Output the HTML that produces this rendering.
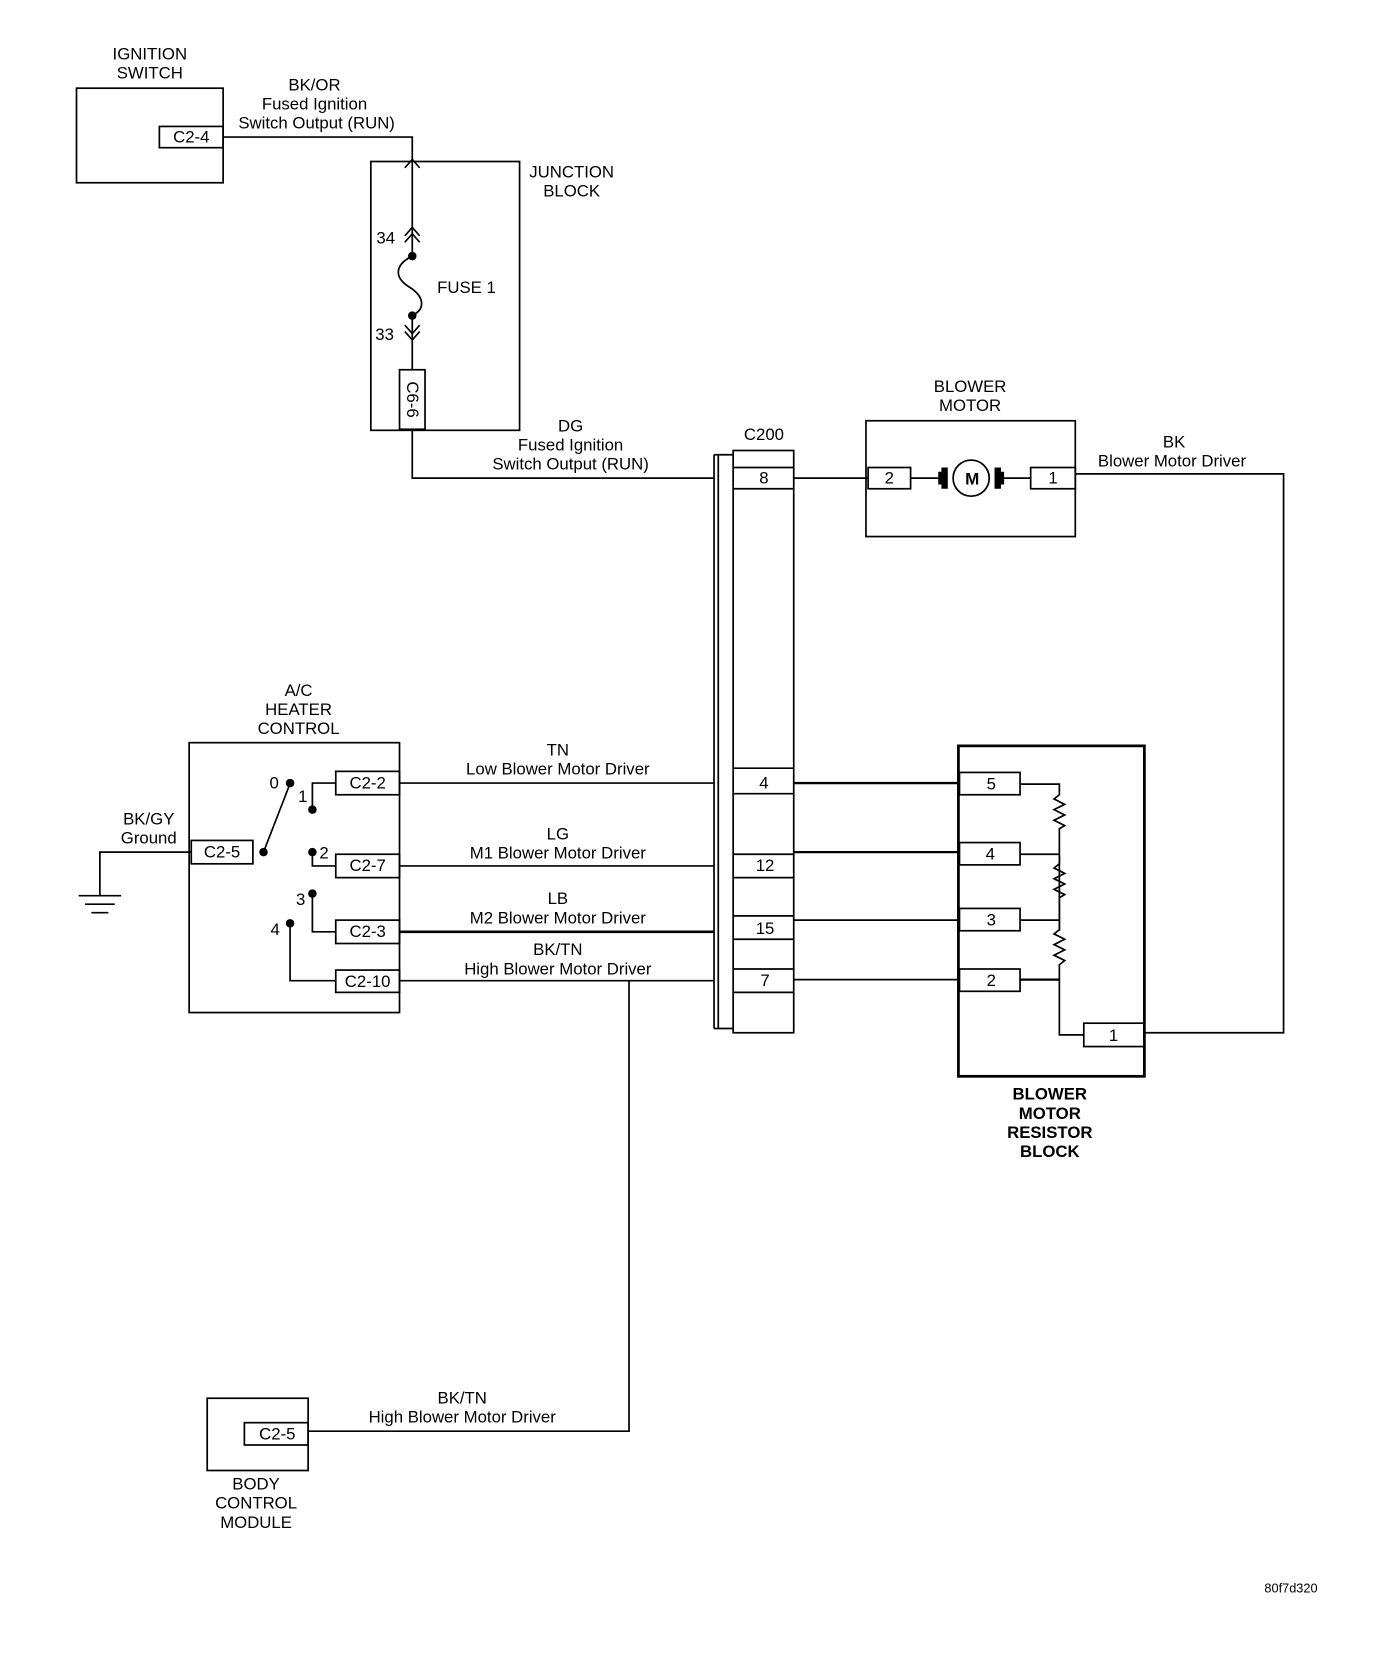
<!DOCTYPE html>
<html><head><meta charset="utf-8"><style>
html,body{margin:0;padding:0;background:#fff;}
svg{display:block;}
text{font-family:"Liberation Sans",sans-serif;font-size:15.8px;fill:#000;text-anchor:middle;}
.b{font-weight:bold;}
</style></head><body>
<svg width="1376" height="1666" viewBox="0 0 1295 1568" preserveAspectRatio="none" xmlns="http://www.w3.org/2000/svg">
<g fill="none" stroke="#000" stroke-width="1.6">
<rect x="72" y="83" width="138" height="89"/>
<rect x="150" y="119" width="60" height="20"/>
<polyline points="210,129 388,129 388,240"/>
<rect x="349" y="152" width="140" height="253"/>
<polyline points="381,158 388,150 395,158"/>
<polyline points="381,222 388,214 395,222"/>
<polyline points="381,228 388,220 395,228"/>
<path d="M388,241 C370,250 372,262 385,270 C398,278 402,290 388,297"/>
<line x1="388" y1="297" x2="388" y2="348"/>
<polyline points="381,306 388,314 395,306"/>
<polyline points="381,312 388,320 395,312"/>
<rect x="376" y="348" width="24" height="56"/>
<polyline points="388,404 388,450 672,450"/>
<line x1="672" y1="428" x2="672" y2="968"/>
<line x1="676" y1="428" x2="676" y2="968"/>
<line x1="672" y1="428" x2="690" y2="428"/>
<line x1="672" y1="968" x2="690" y2="968"/>
<rect x="690" y="424" width="57" height="548"/>
<line x1="690" y1="440" x2="747" y2="440"/><line x1="690" y1="460" x2="747" y2="460"/>
<line x1="690" y1="723" x2="747" y2="723"/><line x1="690" y1="747" x2="747" y2="747"/>
<line x1="690" y1="804" x2="747" y2="804"/><line x1="690" y1="826" x2="747" y2="826"/>
<line x1="690" y1="862" x2="747" y2="862"/><line x1="690" y1="884" x2="747" y2="884"/>
<line x1="690" y1="912" x2="747" y2="912"/><line x1="690" y1="934" x2="747" y2="934"/>
<rect x="815" y="396" width="197" height="109"/>
<rect x="817" y="440" width="40" height="20"/>
<rect x="970" y="440" width="42" height="20"/>
<line x1="747" y1="450" x2="817" y2="450"/>
<line x1="857" y1="450" x2="888" y2="450"/>
<line x1="940" y1="450" x2="970" y2="450"/>
<circle cx="914" cy="450" r="17"/>
<polyline points="1012,446 1208,446 1208,972 1077,972"/>
<rect x="178" y="699" width="198" height="254"/>
<rect x="316" y="726" width="60" height="22"/>
<rect x="316" y="804" width="60" height="22"/>
<rect x="316" y="866" width="60" height="22"/>
<rect x="316" y="913" width="60" height="21"/>
<rect x="180" y="791" width="58" height="22"/>
<line x1="248" y1="802" x2="272" y2="740"/>
<polyline points="294,762 294,737 316,737"/>
<polyline points="294,802 294,815 316,815"/>
<polyline points="294,841 294,877 316,877"/>
<polyline points="273,869 273,923 316,923"/>
<polyline points="180,802 94,802 94,843"/>
<line x1="74" y1="843" x2="114" y2="843"/>
<line x1="80" y1="851" x2="108" y2="851"/>
<line x1="86" y1="859" x2="102" y2="859"/>
<line x1="376" y1="737" x2="672" y2="737"/>
<line x1="376" y1="815" x2="672" y2="815"/>
<line x1="376" y1="877" x2="672" y2="877" stroke-width="2.4"/>
<line x1="376" y1="923" x2="672" y2="923"/>
<polyline points="592,923 592,1347 290,1347"/>
<line x1="747" y1="737" x2="903" y2="737" stroke-width="2.2"/>
<line x1="747" y1="802" x2="903" y2="802" stroke-width="2.2"/>
<line x1="747" y1="866" x2="903" y2="866"/>
<line x1="747" y1="922" x2="903" y2="922"/>
<rect x="902" y="702" width="175" height="311" stroke-width="2.6"/>
<rect x="903" y="727" width="57" height="21"/>
<rect x="903" y="793" width="57" height="21"/>
<rect x="903" y="855" width="57" height="21"/>
<rect x="903" y="912" width="57" height="21"/>
<rect x="1020" y="963" width="57" height="22"/>
<polyline points="960,738 997,738 997,748 992,752 1002,757 992,762 1002,767 992,772 1002,777 997,780 997,876"/>
<polyline points="997,805 997,813 992,817 1002,822 992,827 1002,832 992,837 1002,842 997,845 997,865"/>
<polyline points="997,865 997,875 992,879 1002,884 992,889 1002,894 992,899 1002,904 997,908 997,974 1020,974"/>
<line x1="960" y1="804" x2="997" y2="804"/>
<line x1="960" y1="866" x2="997" y2="866"/>
<line x1="960" y1="922" x2="997" y2="922" stroke-width="2.2"/>
<rect x="195" y="1316" width="95" height="68"/>
<rect x="230" y="1339" width="60" height="21"/>
</g>
<g fill="#000">
<circle cx="388" cy="241" r="4"/><circle cx="388" cy="297" r="4"/>
<circle cx="273" cy="737" r="4"/><circle cx="294" cy="762" r="4"/>
<circle cx="294" cy="802" r="4"/><circle cx="294" cy="841" r="4"/>
<circle cx="273" cy="869" r="4"/><circle cx="248" cy="802" r="4"/>
<rect x="886" y="440" width="6" height="20"/><rect x="936" y="440" width="6" height="20"/>
<rect x="883" y="444" width="4" height="12"/><rect x="941" y="444" width="4" height="12"/>
</g>
<text x="141" y="56">IGNITION</text><text x="141" y="74">SWITCH</text>
<text x="180" y="134">C2-4</text>
<text x="296" y="85">BK/OR</text><text x="296" y="103">Fused Ignition</text><text x="298" y="121">Switch Output (RUN)</text>
<text x="538" y="167">JUNCTION</text><text x="538" y="185">BLOCK</text>
<text x="363" y="229">34</text><text x="362" y="320">33</text>
<text x="439" y="276">FUSE 1</text>
<text x="0" y="0" transform="translate(383,376) rotate(90)">C6-6</text>
<text x="537" y="406">DG</text><text x="537" y="424">Fused Ignition</text><text x="537" y="442">Switch Output (RUN)</text>
<text x="719" y="414">C200</text>
<text x="719" y="455">8</text><text x="719" y="742">4</text><text x="720" y="820">12</text><text x="720" y="879">15</text><text x="720" y="928">7</text>
<text x="913" y="369">BLOWER</text><text x="913" y="387">MOTOR</text>
<text x="837" y="455">2</text><text x="991" y="455">1</text>
<text x="915" y="456" class="b" style="font-size:16px">M</text>
<text x="1105" y="421">BK</text><text x="1103" y="439">Blower Motor Driver</text>
<text x="281" y="655">A/C</text><text x="281" y="673">HEATER</text><text x="281" y="691">CONTROL</text>
<text x="346" y="742">C2-2</text><text x="346" y="820">C2-7</text><text x="346" y="882">C2-3</text><text x="346" y="929">C2-10</text>
<text x="209" y="807">C2-5</text>
<text x="258" y="742">0</text><text x="285" y="755">1</text><text x="305" y="808">2</text><text x="283" y="852">3</text><text x="259" y="880">4</text>
<text x="140" y="776">BK/GY</text><text x="140" y="794">Ground</text>
<text x="525" y="711">TN</text><text x="525" y="729">Low Blower Motor Driver</text>
<text x="525" y="790">LG</text><text x="525" y="808">M1 Blower Motor Driver</text>
<text x="525" y="851">LB</text><text x="525" y="869">M2 Blower Motor Driver</text>
<text x="525" y="899">BK/TN</text><text x="525" y="917">High Blower Motor Driver</text>
<text x="933" y="743">5</text><text x="932" y="809">4</text><text x="933" y="871">3</text><text x="933" y="928">2</text><text x="1048" y="980">1</text>
<text class="b" x="988" y="1035">BLOWER</text><text class="b" x="988" y="1053">MOTOR</text><text class="b" x="988" y="1071">RESISTOR</text><text class="b" x="988" y="1089">BLOCK</text>
<text x="435" y="1321">BK/TN</text><text x="435" y="1339">High Blower Motor Driver</text>
<text x="261" y="1355">C2-5</text>
<text x="241" y="1402">BODY</text><text x="241" y="1420">CONTROL</text><text x="241" y="1438">MODULE</text>
<text x="1215" y="1499" style="font-size:12px">80f7d320</text>
</svg>
</body></html>
